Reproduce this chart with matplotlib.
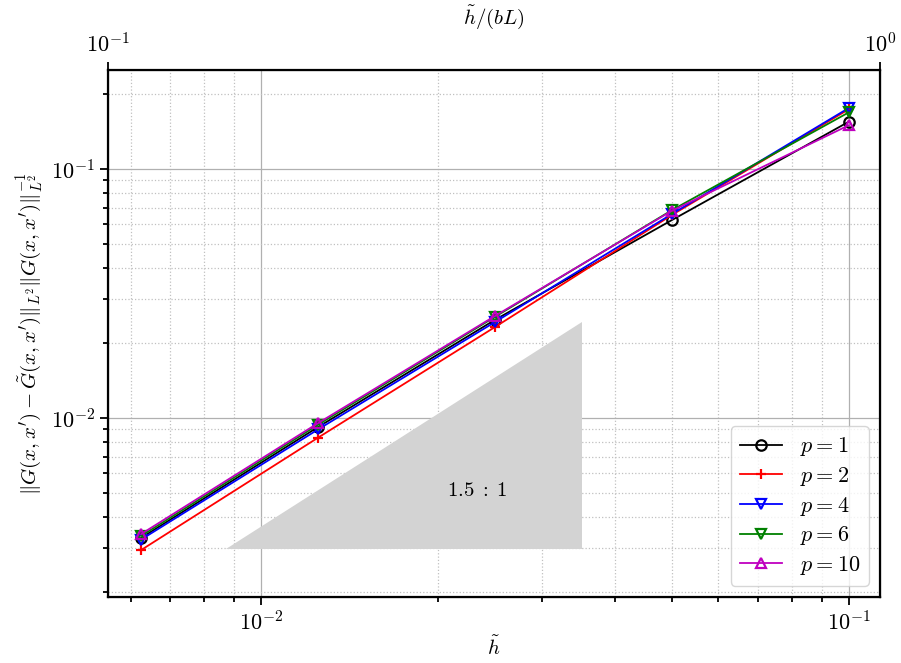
import matplotlib
matplotlib.use('Agg')
import matplotlib.pyplot as plt
from matplotlib.ticker import NullLocator

plt.rcParams['font.family'] = 'serif'
plt.rcParams['font.serif'] = ['cmr10']
plt.rcParams['mathtext.fontset'] = 'cm'
plt.rcParams['axes.formatter.use_mathtext'] = True

# mesh size and relative L2 errors
h = [0.00625, 0.0125, 0.025, 0.05, 0.1]
err_p1 = [0.00330, 0.00920, 0.0248, 0.0624, 0.155]
err_p2 = [0.00295, 0.00834, 0.0232, 0.0654, 0.174]
err_p4 = [0.00325, 0.00900, 0.0243, 0.0660, 0.176]
err_p6 = [0.00336, 0.00940, 0.0255, 0.0684, 0.169]
err_p10 = [0.00342, 0.00954, 0.0257, 0.0680, 0.150]

series = [
    (err_p1, 'k', 'o', r'$p=1$'),
    (err_p2, 'r', '+', r'$p=2$'),
    (err_p4, 'b', 'v', r'$p=4$'),
    (err_p6, 'g', 'v', r'$p=6$'),
    (err_p10, 'm', '^', r'$p=10$'),
]

# slope triangle 1.5 : 1
tri_x = [0.0087, 0.0351, 0.0351]
tri_y = [0.00298, 0.00298, 0.0243]

fig = plt.figure(figsize=(9.01, 6.63), dpi=100)
ax = fig.add_axes([0.1199, 0.0995, 0.8568, 0.7949])

ax.fill(tri_x, tri_y, color='#d3d3d3', zorder=1.5, lw=0)
ax.text(0.0233, 0.0051, r'$1.5\;:\;1$', fontsize=15, ha='center', va='center')

for err, c, m, lab in series:
    ax.loglog(h, err, color=c, marker=m, markerfacecolor='none',
              markersize=7.5, markeredgewidth=1.6, lw=1.3, label=lab, zorder=3)

ax.set_xlim(0.00549, 0.113)
ax.set_ylim(0.00191, 0.25)
ax.grid(True, which='major', color='#b0b0b0', lw=0.9)
ax.grid(True, which='minor', color='#c0c0c0', ls=':', lw=0.9)
ax.set_axisbelow(True)
ax.set_xlabel(r'$\tilde{h}$', fontsize=15, labelpad=1)
ax.set_ylabel(r"$\|G(x,x') - \tilde{G}(x,x')\|_{L^2}\|G(x,x')\|_{L^2}^{-1}$", fontsize=15)
ax.tick_params(which='both', direction='out', width=1.3, labelsize=16)
ax.tick_params(which='major', length=6)
ax.tick_params(which='minor', length=3.5)
for s in ax.spines.values():
    s.set_linewidth(1.6)

leg = ax.legend(loc='lower right', fontsize=16, handlelength=1.9, labelspacing=0.3,
                fancybox=True, framealpha=0.8, edgecolor='#cccccc')

ax2 = ax.twiny()
ax2.set_xscale('log')
ax2.set_xlim(0.1, 1.0)
ax2.xaxis.set_minor_locator(NullLocator())
ax2.set_xlabel(r'$\tilde{h}/(bL)$', fontsize=15, labelpad=6)
ax2.tick_params(which='major', direction='out', length=6, width=1.3, labelsize=16)

fig.savefig('out.png', dpi=100)
